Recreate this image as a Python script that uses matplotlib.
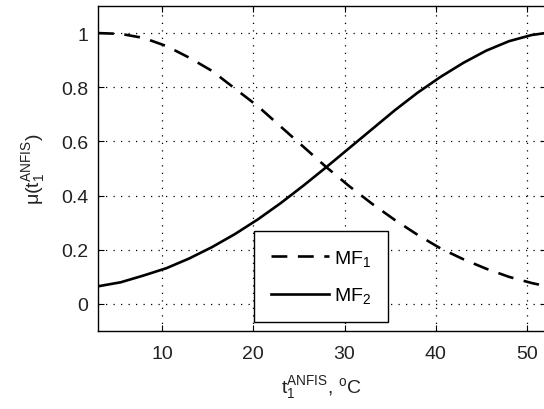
import numpy as np
import matplotlib
matplotlib.use("Agg")
import matplotlib.pyplot as plt

# values
t = [3, 5.5, 8, 10.5, 13, 15.5, 18, 20.5, 23, 25.5, 28, 30.5, 33, 35.5,
     38, 40.5, 43, 45.5, 48, 50.5, 52]
mf1 = [1.0, 0.997, 0.982, 0.952, 0.909, 0.86, 0.795, 0.73, 0.655, 0.58,
       0.505, 0.435, 0.37, 0.31, 0.255, 0.205, 0.165, 0.13, 0.10, 0.077, 0.066]
mf2 = [0.065, 0.08, 0.105, 0.132, 0.168, 0.21, 0.258, 0.312, 0.372, 0.437,
       0.505, 0.575, 0.645, 0.715, 0.78, 0.838, 0.89, 0.935, 0.97, 0.993, 1.0]

xticks = [10, 20, 30, 40, 50]
yticks = [0, 0.2, 0.4, 0.6, 0.8, 1]
ytick_labels = ['0', '0.2', '0.4', '0.6', '0.8', '1']

plt.rcParams['font.family'] = ['Liberation Sans', 'DejaVu Sans']
plt.rcParams['mathtext.default'] = 'regular'

fig = plt.figure(figsize=(5.44, 4.10), dpi=100)
ax = fig.add_axes([98 / 544, 1 - 332 / 410, 447.5 / 544, 325 / 410])

ax.plot(t, mf1, color='black', linewidth=1.9, linestyle=(0, (6, 4)), label='MF$_1$')
ax.plot(t, mf2, color='black', linewidth=1.9, label='MF$_2$')

ax.set_xlim(3, 52)
ax.set_ylim(-0.1, 1.1)
ax.set_xticks(xticks)
ax.set_yticks(yticks)
ax.set_yticklabels(ytick_labels)
ax.tick_params(direction='in', length=4, width=0.8, top=True, right=True,
               labelsize=14, labelcolor='#222222')
ax.tick_params(axis='x', pad=10)
ax.tick_params(axis='y', pad=7)
ax.grid(True, color='black', linestyle=(0, (1, 5)), linewidth=0.9)
for s in ax.spines.values():
    s.set_linewidth(1.0)

ax.set_xlabel('$t_1^{ANFIS}$, $^oC$', fontsize=14, color='#222222', labelpad=8)
ax.set_ylabel('$\\mu(t_1^{ANFIS})$', fontsize=14, color='#222222', labelpad=10)

leg = ax.legend(loc='lower left', bbox_to_anchor=(0.349, 0.028), fontsize=14,
                handlelength=3.0, handletextpad=0.25, borderaxespad=0,
                fancybox=False, framealpha=1, edgecolor='black',
                borderpad=0.85, labelspacing=0.9)
leg.get_frame().set_linewidth(1.0)

fig.savefig('out.png', dpi=100)
